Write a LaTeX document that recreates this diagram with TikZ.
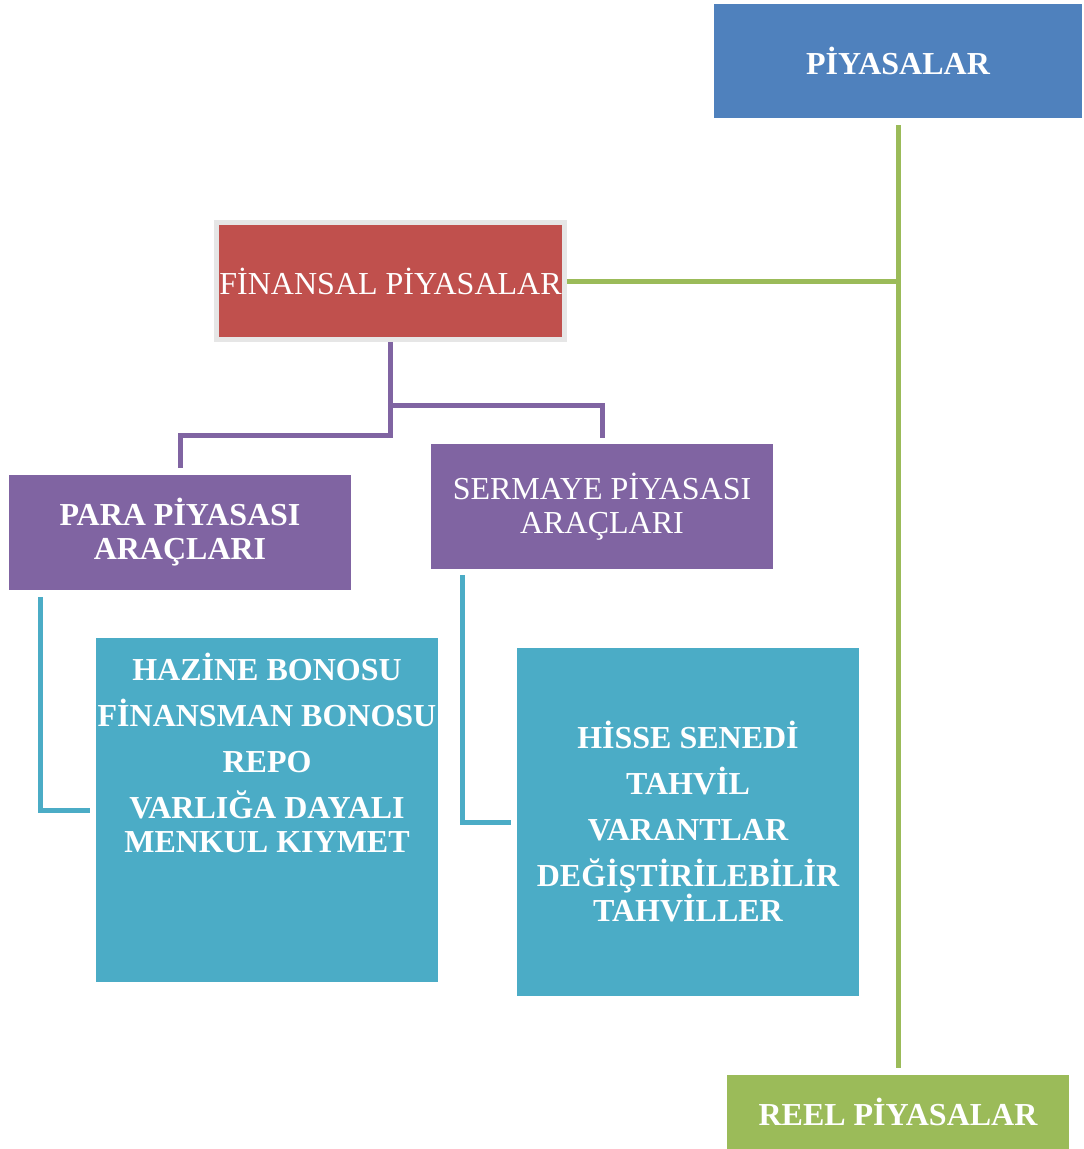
\documentclass[tikz,border=0pt]{standalone}
\usepackage{fontspec}
\setmainfont{Liberation Serif}
\definecolor{piyblue}{HTML}{4F81BD}
\definecolor{finred}{HTML}{C0504D}
\definecolor{finframe}{HTML}{E6E6E6}
\definecolor{arapurple}{HTML}{8064A2}
\definecolor{reelgreen}{HTML}{9BBB59}
\definecolor{listteal}{HTML}{4BACC6}
\begin{document}
\begin{tikzpicture}[x=1pt, y=-1pt,
  box/.style={rectangle, inner sep=0pt, text=white, align=center,
    font=\fontsize{32}{34}\selectfont\bfseries},
  plainbox/.style={box, font=\fontsize{32}{34}\selectfont},
  greenline/.style={reelgreen, line width=5pt},
  purpleline/.style={arapurple, line width=5pt},
  tealline/.style={listteal, line width=5pt}]
  \useasboundingbox (0,0) rectangle (1084,1149);

  % Top and bottom
  \node[box, fill=piyblue, minimum width=368, minimum height=114] (piy) at (898,61) {PİYASALAR};
  \node[box, fill=reelgreen, minimum width=342, minimum height=74] (reel) at (898,1112) {REEL PİYASALAR};

  % Finansal piyasalar
  \node[plainbox, fill=finred, draw=finframe, line width=5pt, minimum width=348, minimum height=117] (fin) at (390.5,281) {FİNANSAL PİYASALAR};

  % Araclar
  \node[box, fill=arapurple, minimum width=342, minimum height=115] (para) at (180,532.5) {PARA PİYASASI\\ARAÇLARI};
  \node[plainbox, fill=arapurple, minimum width=342, minimum height=125] (serm) at (602,506.5) {SERMAYE PİYASASI\\ARAÇLARI};

  % Lists
  \node[box, fill=listteal, minimum width=342, minimum height=344] (haz) at (267,810) {%
    \begin{minipage}[c][344pt][t]{342pt}\centering
      \vspace*{15pt}HAZİNE BONOSU\\[12pt]
      FİNANSMAN BONOSU\\[12pt]
      REPO\\[12pt]
      VARLIĞA DAYALI\\MENKUL KIYMET
    \end{minipage}};
  \node[box, fill=listteal, minimum width=342, minimum height=348] (his) at (688,822)
    {HİSSE SENEDİ\\[12pt]TAHVİL\\[12pt]VARANTLAR\\[12pt]DEĞİŞTİRİLEBİLİR\\TAHVİLLER};

  % Connectors
  \draw[greenline] ([yshift=-7pt]piy.south) -- ([yshift=7pt]reel.north);
  \draw[greenline] (fin.east) -- (fin.east -| piy.south);
  \draw[purpleline] (fin.south) -- ([yshift=-93pt]fin.south) -| ([yshift=7pt]para.north);
  \draw[purpleline] ([yshift=-63pt]fin.south) -| ([yshift=6pt]serm.north);
  \draw[tealline] ([xshift=32pt,yshift=-7pt]para.south west) |- ([xshift=-6pt]haz.west);
  \draw[tealline] ([xshift=32pt,yshift=-6pt]serm.south west) |- ([xshift=-6pt]his.west);
\end{tikzpicture}
\end{document}
